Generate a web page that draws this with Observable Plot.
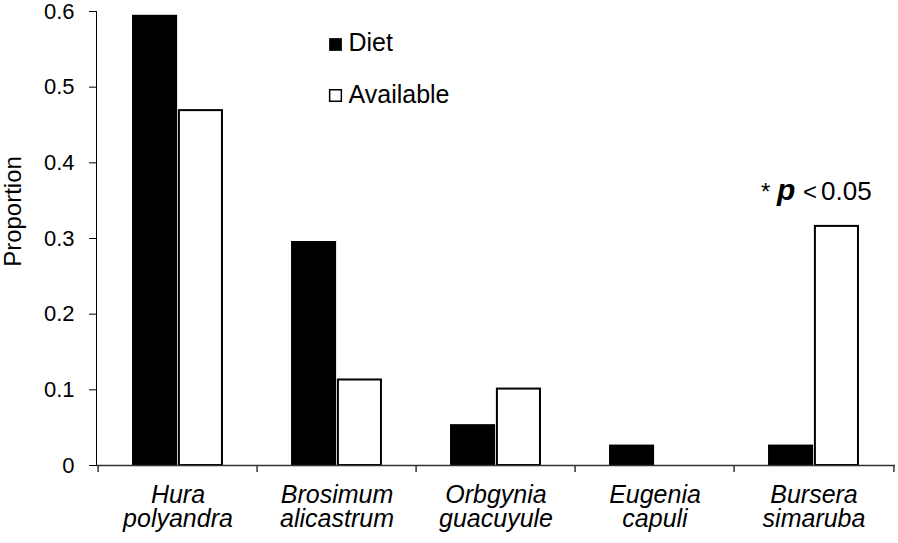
<!DOCTYPE html>
<html>
<head>
<meta charset="utf-8">
<script src="https://cdn.jsdelivr.net/npm/d3@7"></script>
<script src="https://cdn.jsdelivr.net/npm/@observablehq/plot@0.6"></script>
<style>
  html, body { margin: 0; padding: 0; background: #fff; }
</style>
</head>
<body>
<div id="chart"></div>
<script>
// ---- data ----
const species = ["Hura polyandra", "Brosimum alicastrum", "Orbgynia guacuyule", "Eugenia capuli", "Bursera simaruba"];
const diet = [0.595, 0.296, 0.054, 0.027, 0.027];
const available = [0.469, 0.113, 0.101, 0, 0.316];
const yTicks = [0, 0.1, 0.2, 0.3, 0.4, 0.5, 0.6];
const seriesNames = ["Diet", "Available"];
const yLabel = "Proportion";

const rows = species.map((s, i) => ({species: s, diet: diet[i], available: available[i]}));

// ---- layout ----
const W = 898, H = 543, mL = 96, mR = 3, mT = 11, mB = 78;
const bw = (W - mL - mR) / species.length;
const yDomain = [0, 0.6];
const yMid = (yDomain[0] + yDomain[1]) / 2;
const font = "'Liberation Sans', Arial, sans-serif";

const chart = Plot.plot({
  width: W, height: H,
  marginLeft: mL, marginRight: mR, marginTop: mT, marginBottom: mB,
  style: {fontFamily: font, fontSize: "22px", color: "black", background: "white", overflow: "visible"},
  x: {domain: species, padding: 0, axis: null},
  y: {domain: yDomain, ticks: yTicks, tickFormat: d3.format("~g"), tickSize: 7, tickPadding: 15, line: true, label: null},
  marks: [
    // bars
    Plot.barY(rows, {x: "species", y: "diet", fill: "black", insetLeft: bw * 0.213, insetRight: bw * 0.5}),
    Plot.barY(rows, {x: "species", y: "available", filter: d => d.available > 0, fill: "white", stroke: "black", strokeWidth: 2,
      insetLeft: bw * 0.5 + 1, insetRight: bw * 0.213 + 1}),
    // x axis line and boundary ticks
    Plot.ruleY([0], {stroke: "#333", strokeWidth: 1.5}),
    Plot.ruleX(species, {x: d => d, y1: () => 0, y2: () => 0, dx: -bw / 2, insetBottom: -7, stroke: "#333", strokeWidth: 1.5}),
    Plot.ruleX(species.slice(-1), {x: d => d, y1: () => 0, y2: () => 0, dx: bw / 2, insetBottom: -7, stroke: "#333", strokeWidth: 1.5}),
    // x category labels (italic, two lines)
    Plot.text(species, {x: d => d, y: () => 0, text: d => d.replace(" ", "\n"), fontStyle: "italic", fontSize: 25,
      lineAnchor: "top", lineHeight: 0.97, dy: 20, fill: "black"}),
    // y axis title
    Plot.text([yLabel], {frameAnchor: "left", y: () => yMid, rotate: -90, textAnchor: "middle", lineAnchor: "bottom", dx: -76, dy: -27, fontSize: 24, fill: "black"}),
    // legend
    Plot.dot([seriesNames[0]], {frameAnchor: "top-left", dx: 239, dy: 33, symbol: "square", r: 7.2, fill: "black", stroke: "none"}),
    Plot.dot([seriesNames[1]], {frameAnchor: "top-left", dx: 239, dy: 84, symbol: "square", r: 6.6, fill: "white", stroke: "black", strokeWidth: 1.5}),
    Plot.text([seriesNames[0]], {frameAnchor: "top-left", dx: 252, dy: 39, text: d => d, textAnchor: "start", lineAnchor: "bottom", fontSize: 25, fill: "black"}),
    Plot.text([seriesNames[1]], {frameAnchor: "top-left", dx: 252, dy: 91, text: d => d, textAnchor: "start", lineAnchor: "bottom", fontSize: 25, fill: "black"}),
    // significance annotation above Bursera simaruba
    Plot.text(["*"], {x: () => species[4], y: () => available[4], text: d => d, textAnchor: "start", lineAnchor: "bottom", dx: -53, dy: -26, fontSize: 24, fill: "black"}),
    Plot.text(["p"], {x: () => species[4], y: () => available[4], text: d => d, textAnchor: "start", lineAnchor: "bottom", dx: -37, dy: -26, fontSize: 30, fontWeight: "bold", fontStyle: "italic", fill: "black"}),
    Plot.text(["<"], {x: () => species[4], y: () => available[4], text: d => d, textAnchor: "start", lineAnchor: "bottom", dx: -11, dy: -26, fontSize: 24, fill: "black"}),
    Plot.text(["0.05"], {x: () => species[4], y: () => available[4], text: d => d, textAnchor: "start", lineAnchor: "bottom", dx: 7, dy: -26, fontSize: 26, fill: "black"})
  ]
});

document.getElementById("chart").appendChild(chart);
</script>
</body>
</html>
